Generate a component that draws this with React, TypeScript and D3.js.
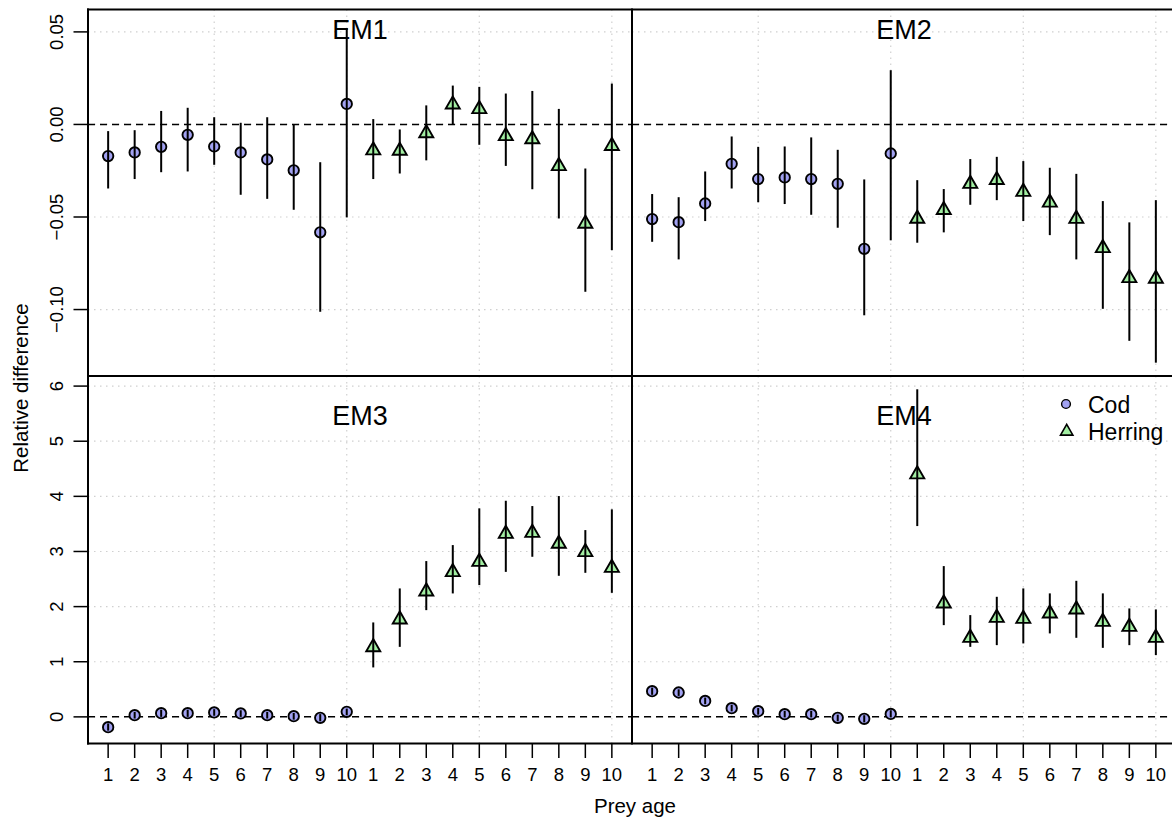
import { useEffect, useRef } from "react";
import * as d3 from "d3";

// prey ages along each half of a panel (cod first, herring second)
const ages = [1, 2, 3, 4, 5, 6, 7, 8, 9, 10];
const panelTitles = ["EM1", "EM2", "EM3", "EM4"];
const speciesNames = ["Cod", "Herring"];
const speciesFill = ["#a2a2f2", "#a2eea2"];

// EM1
const em1CodMid = [-0.0171, -0.0151, -0.0121, -0.0056, -0.0119, -0.0151, -0.0189, -0.0248, -0.0583, 0.0111];
const em1CodLo = [-0.0346, -0.0295, -0.0258, -0.0254, -0.0218, -0.038, -0.0402, -0.0461, -0.1012, -0.0502];
const em1CodHi = [-0.0036, -0.0031, 0.0073, 0.009, 0.0039, 0.0009, 0.0039, 0.0002, -0.0204, 0.052];
const em1HerMid = [-0.014, -0.0142, -0.0047, 0.0108, 0.0083, -0.0063, -0.008, -0.0225, -0.0536, -0.0116];
const em1HerLo = [-0.0295, -0.0265, -0.0194, 0.0002, -0.011, -0.0224, -0.035, -0.0508, -0.0904, -0.0679];
const em1HerHi = [0.0029, -0.0027, 0.0103, 0.021, 0.0203, 0.0167, 0.0181, 0.0084, -0.0238, 0.0221];

// EM2
const em2CodMid = [-0.0511, -0.0528, -0.0427, -0.0213, -0.0295, -0.0286, -0.0295, -0.0321, -0.0672, -0.0157];
const em2CodLo = [-0.0634, -0.0729, -0.0522, -0.0346, -0.042, -0.043, -0.0488, -0.0558, -0.1031, -0.0626];
const em2CodHi = [-0.0376, -0.0393, -0.0254, -0.0065, -0.0121, -0.0119, -0.007, -0.0137, -0.0297, 0.0293];
const em2HerMid = [-0.0509, -0.0462, -0.0321, -0.03, -0.0364, -0.0422, -0.051, -0.0668, -0.083, -0.0833];
const em2HerLo = [-0.0639, -0.0583, -0.0434, -0.0409, -0.0522, -0.0598, -0.0729, -0.0996, -0.1169, -0.1287];
const em2HerHi = [-0.0301, -0.0349, -0.0187, -0.0175, -0.0198, -0.0234, -0.0267, -0.0414, -0.0529, -0.0409];

// EM3
const em3CodMid = [-0.187, 0.031, 0.067, 0.067, 0.08, 0.062, 0.031, 0.013, -0.018, 0.091];
const em3CodLo = [-0.25, -0.03, 0.0, 0.0, 0.02, 0.0, -0.03, -0.05, -0.08, 0.03];
const em3CodHi = [-0.12, 0.09, 0.13, 0.13, 0.14, 0.12, 0.09, 0.07, 0.05, 0.15];
const em3HerMid = [1.265, 1.768, 2.276, 2.626, 2.813, 3.321, 3.339, 3.14, 2.989, 2.704];
const em3HerLo = [0.897, 1.27, 1.936, 2.239, 2.39, 2.63, 2.904, 2.559, 2.613, 2.25];
const em3HerHi = [1.713, 2.33, 2.826, 3.116, 3.782, 3.92, 3.824, 4.005, 3.388, 3.764];

// EM4
const em4CodMid = [0.466, 0.442, 0.29, 0.158, 0.103, 0.049, 0.049, -0.018, -0.036, 0.054];
const em4CodLo = [0.4, 0.38, 0.23, 0.1, 0.04, -0.01, -0.01, -0.08, -0.1, -0.01];
const em4CodHi = [0.53, 0.5, 0.35, 0.22, 0.16, 0.11, 0.11, 0.04, 0.03, 0.12];
const em4HerMid = [4.399, 2.058, 1.434, 1.797, 1.779, 1.877, 1.949, 1.724, 1.633, 1.434];
const em4HerLo = [3.461, 1.664, 1.27, 1.301, 1.332, 1.514, 1.434, 1.252, 1.301, 1.12];
const em4HerHi = [5.942, 2.735, 1.846, 2.178, 2.33, 2.24, 2.468, 2.24, 1.967, 1.949];

const FONT = "Liberation Sans, Arial, Helvetica, sans-serif";

function trianglePath(cx: number, cy: number, r0: number) {
  const r = 1.5551 * r0;
  const hw = 1.3468 * r0;
  const yb = 0.7776 * r0;
  return `M${cx},${cy - r}L${cx + hw},${cy + yb}L${cx - hw},${cy + yb}Z`;
}

export default function App() {
  const chart = useRef<SVGSVGElement | null>(null);
  const width = 1172;
  const height = 820;
  const left = 88;
  const mid = 632;
  const right = 1176;
  const top = 9.5;
  const midY = 376;
  const bottom = 743.5;

  useEffect(() => {
    const svg = d3.select(chart.current);
    svg.selectAll("*").remove();

    const panelW = mid - left;
    // 20 positions: cod ages 1-10 then herring ages 1-10, R-style 4% padding
    const x = d3.scaleLinear().domain([1 - 0.76, 20 + 0.76]).range([0, panelW]);
    const yTop = d3.scaleLinear().domain([-0.1359, 0.0621]).range([midY, top]);
    const yBot = d3.scaleLinear().domain([-0.483, 6.183]).range([bottom, midY]);

    const panels = [
      { title: panelTitles[0], x0: left, y: yTop, cod: [em1CodMid, em1CodLo, em1CodHi], her: [em1HerMid, em1HerLo, em1HerHi] },
      { title: panelTitles[1], x0: mid, y: yTop, cod: [em2CodMid, em2CodLo, em2CodHi], her: [em2HerMid, em2HerLo, em2HerHi] },
      { title: panelTitles[2], x0: left, y: yBot, cod: [em3CodMid, em3CodLo, em3CodHi], her: [em3HerMid, em3HerLo, em3HerHi] },
      { title: panelTitles[3], x0: mid, y: yBot, cod: [em4CodMid, em4CodLo, em4CodHi], her: [em4HerMid, em4HerLo, em4HerHi] },
    ];

    const positions = d3.range(1, 21);
    const gridX = [5, 10, 15, 20];

    panels.forEach((p, pi) => {
      const g = svg.append("g").attr("transform", `translate(${p.x0},0)`);
      const [y0, y1] = p.y.range();
      const yTicks = p.y.ticks(pi < 2 ? 4 : 6);

      // dotted grid
      g.selectAll("line.gy")
        .data(yTicks)
        .enter()
        .append("line")
        .attr("x1", 0)
        .attr("x2", panelW)
        .attr("y1", (d) => p.y(d))
        .attr("y2", (d) => p.y(d))
        .attr("stroke", "#d0d0d0")
        .attr("stroke-width", 1.2)
        .attr("stroke-dasharray", "1.5,4.5");
      g.selectAll("line.gx")
        .data(gridX)
        .enter()
        .append("line")
        .attr("x1", (d) => x(d))
        .attr("x2", (d) => x(d))
        .attr("y1", y1)
        .attr("y2", y0)
        .attr("stroke", "#d0d0d0")
        .attr("stroke-width", 1.2)
        .attr("stroke-dasharray", "1.5,4.5");

      // zero reference
      g.append("line")
        .attr("x1", 0)
        .attr("x2", panelW)
        .attr("y1", p.y(0))
        .attr("y2", p.y(0))
        .attr("stroke", "#000")
        .attr("stroke-width", 1.5)
        .attr("stroke-dasharray", "7,5");

      const pts = [
        ...ages.map((a, i) => ({ pos: i + 1, mid: p.cod[0][i], lo: p.cod[1][i], hi: p.cod[2][i], sp: 0 })),
        ...ages.map((a, i) => ({ pos: i + 11, mid: p.her[0][i], lo: p.her[1][i], hi: p.her[2][i], sp: 1 })),
      ];

      g.selectAll("circle.cod")
        .data(pts.filter((d) => d.sp === 0))
        .enter()
        .append("circle")
        .attr("cx", (d) => x(d.pos))
        .attr("cy", (d) => p.y(d.mid))
        .attr("r", 5.2)
        .attr("fill", speciesFill[0])
        .attr("stroke", "#000")
        .attr("stroke-width", 1.9);

      g.selectAll("path.her")
        .data(pts.filter((d) => d.sp === 1))
        .enter()
        .append("path")
        .attr("d", (d) => trianglePath(x(d.pos), p.y(d.mid), 5.2))
        .attr("fill", speciesFill[1])
        .attr("stroke", "#000")
        .attr("stroke-width", 1.9)
        .attr("stroke-linejoin", "miter");

      g.selectAll("line.bar")
        .data(pts)
        .enter()
        .append("line")
        .attr("x1", (d) => x(d.pos))
        .attr("x2", (d) => x(d.pos))
        .attr("y1", (d) => p.y(d.lo))
        .attr("y2", (d) => p.y(d.hi))
        .attr("stroke", "#000")
        .attr("stroke-width", 2);

      g.append("text")
        .attr("x", panelW / 2)
        .attr("y", pi < 2 ? top + 29 : midY + 49)
        .attr("text-anchor", "middle")
        .attr("font-family", FONT)
        .attr("font-size", "27px")
        .text(p.title);

      // y axis on the left panels
      if (pi % 2 === 0) {
        const fmt = pi < 2 ? d3.format(".2f") : d3.format("d");
        yTicks.forEach((t) => {
          g.append("line")
            .attr("x1", -14.5)
            .attr("x2", 0)
            .attr("y1", p.y(t))
            .attr("y2", p.y(t))
            .attr("stroke", "#000")
            .attr("stroke-width", 1.5);
          g.append("text")
            .attr("transform", `translate(-25,${p.y(t)}) rotate(-90)`)
            .attr("text-anchor", "middle")
            .attr("font-family", FONT)
            .attr("font-size", "18.5px")
            .text(fmt(t));
        });
      }

      // x axis on the bottom panels
      if (pi >= 2) {
        positions.forEach((pos) => {
          g.append("line")
            .attr("x1", x(pos))
            .attr("x2", x(pos))
            .attr("y1", bottom)
            .attr("y2", bottom + 14.5)
            .attr("stroke", "#000")
            .attr("stroke-width", 1.5);
          g.append("text")
            .attr("x", x(pos))
            .attr("y", 781)
            .attr("text-anchor", "middle")
            .attr("font-family", FONT)
            .attr("font-size", "18.5px")
            .text(ages[(pos - 1) % 10]);
        });
      }
    });

    // panel frame
    const frame = [
      [left, top, right, top],
      [left, midY, right, midY],
      [left, bottom, right, bottom],
      [left, top, left, bottom],
      [mid, top, mid, bottom],
      [right, top, right, bottom],
    ];
    svg.selectAll("line.frame")
      .data(frame)
      .enter()
      .append("line")
      .attr("x1", (d) => d[0])
      .attr("y1", (d) => d[1])
      .attr("x2", (d) => d[2])
      .attr("y2", (d) => d[3])
      .attr("stroke", "#000")
      .attr("stroke-width", 2)
      .attr("stroke-linecap", "square");

    // axis titles
    svg.append("text")
      .attr("transform", `translate(28,388) rotate(-90)`)
      .attr("text-anchor", "middle")
      .attr("font-family", FONT)
      .attr("font-size", "20.5px")
      .text("Relative difference");
    svg.append("text")
      .attr("x", 635)
      .attr("y", 813)
      .attr("text-anchor", "middle")
      .attr("font-family", FONT)
      .attr("font-size", "20.5px")
      .text("Prey age");

    // legend
    const leg = svg.append("g").attr("transform", "translate(1066,404)");
    leg.append("circle")
      .attr("cx", 0)
      .attr("cy", 0)
      .attr("r", 4.4)
      .attr("fill", speciesFill[0])
      .attr("stroke", "#000")
      .attr("stroke-width", 1.4);
    leg.append("path")
      .attr("d", trianglePath(0.7, 27.5, 4.6))
      .attr("fill", speciesFill[1])
      .attr("stroke", "#000")
      .attr("stroke-width", 1.6);
    speciesNames.forEach((s, i) => {
      leg.append("text")
        .attr("x", 22)
        .attr("y", 9 + i * 27)
        .attr("font-family", FONT)
        .attr("font-size", "23px")
        .text(s);
    });
  }, []);

  return (
    <svg
      ref={chart}
      width={width}
      height={height}
      style={{ position: "absolute", left: 0, top: 0, background: "#fff" }}
    ></svg>
  );
}
